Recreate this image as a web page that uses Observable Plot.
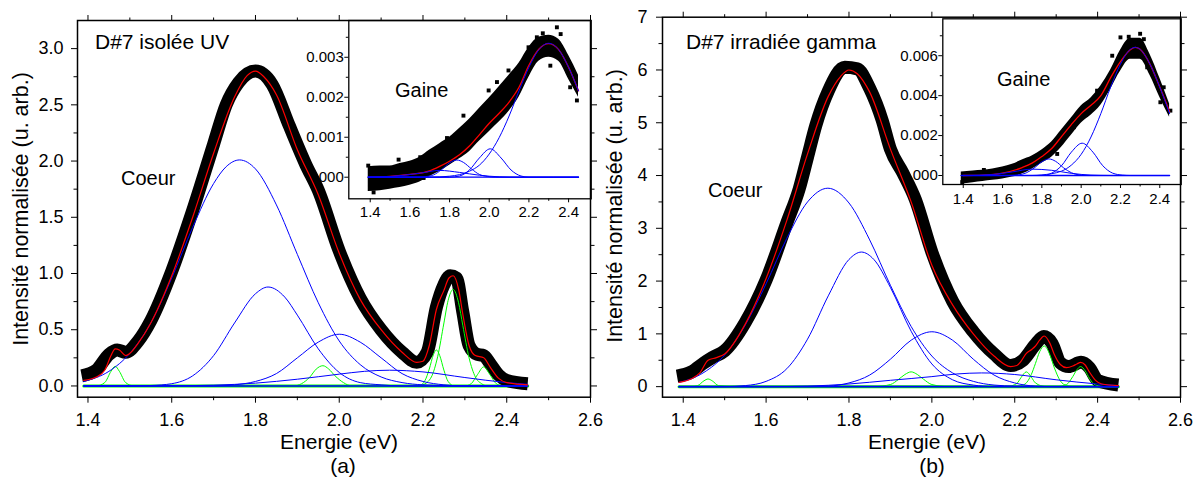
<!DOCTYPE html>
<html><head><meta charset="utf-8">
<script src="https://cdn.jsdelivr.net/npm/d3@7"></script>
<script src="https://cdn.jsdelivr.net/npm/@observablehq/plot@0.6"></script>
<style>
html,body{margin:0;padding:0;background:#fff;}
#wrap{position:relative;width:1201px;height:482px;overflow:hidden;background:#fff;font-family:"Liberation Sans",Arial,sans-serif;color:#000;}
.lbl{position:absolute;white-space:nowrap;line-height:1;}
</style></head><body><div id="wrap"></div>
<script>
// ---------- text ----------
const titleA = "D#7 isolée UV";
const titleB = "D#7 irradiée gamma";
const coreLabel = "Coeur";
const sheathLabel = "Gaine";
const xTitle = "Energie (eV)";
const yTitle = "Intensité normalisée (u. arb.)";
const panelA = "(a)", panelB = "(b)";

// ---------- ticks ----------
const xMainMajor = [1.4,1.6,1.8,2.0,2.2,2.4,2.6];
const xMainMinor = [1.5,1.7,1.9,2.1,2.3,2.5];
const yAMajor = [0,0.5,1,1.5,2,2.5,3];
const yAMinor = [0.25,0.75,1.25,1.75,2.25,2.75];
const yBMajor = [0,1,2,3,4,5,6,7];
const yBMinor = [0.5,1.5,2.5,3.5,4.5,5.5,6.5];
const xInsetMajor = [1.4,1.6,1.8,2.0,2.2,2.4];
const xInsetMinor = [1.5,1.7,1.9,2.1,2.3];
const yInsetAMajor = [0,0.001,0.002,0.003];
const yInsetAMinor = [0.0005,0.0015,0.0025,0.0035];
const yInsetBMajor = [0,0.002,0.004,0.006];
const yInsetBMinor = [0.001,0.003,0.005,0.007];

// ---------- panel (a) main ----------
const aBaseline = [[1.39,0],[2.45,0]];
const aData = [[1.385,0.09],[1.42,0.14],[1.45,0.28],[1.47,0.32],[1.49,0.30],[1.52,0.40],[1.55,0.58],[1.60,1.02],[1.65,1.56],[1.70,2.15],[1.73,2.50],[1.76,2.70],[1.80,2.80],[1.84,2.68],[1.88,2.32],[1.92,1.97],[1.95,1.74],[2.00,1.20],[2.05,0.78],[2.10,0.50],[2.15,0.30],[2.185,0.21],[2.21,0.30],[2.232,0.70],[2.25,0.90],[2.265,0.98],[2.28,0.96],[2.295,0.66],[2.31,0.36],[2.33,0.28],[2.345,0.27],[2.36,0.20],[2.38,0.10],[2.40,0.05],[2.45,0.02]];
const aFit = [[1.39,0.05],[1.42,0.08],[1.44,0.14],[1.455,0.27],[1.465,0.33],[1.475,0.32],[1.49,0.27],[1.50,0.29],[1.52,0.38],[1.55,0.56],[1.60,0.98],[1.65,1.50],[1.70,2.07],[1.75,2.57],[1.78,2.76],[1.80,2.80],[1.82,2.75],[1.85,2.59],[1.90,2.10],[1.95,1.70],[2.00,1.18],[2.05,0.77],[2.10,0.50],[2.15,0.30],[2.185,0.21],[2.20,0.22],[2.215,0.36],[2.232,0.68],[2.25,0.85],[2.262,0.96],[2.272,0.98],[2.285,0.86],[2.295,0.64],[2.31,0.36],[2.325,0.27],[2.345,0.25],[2.36,0.17],[2.38,0.07],[2.40,0.03],[2.45,0.01]];
const aBlue1 = [[1.39,0.04],[1.45,0.13],[1.50,0.29],[1.55,0.56],[1.60,0.96],[1.65,1.41],[1.70,1.80],[1.73,1.95],[1.762,2.01],[1.80,1.93],[1.85,1.61],[1.90,1.17],[1.95,0.74],[2.00,0.40],[2.05,0.19],[2.10,0.08],[2.15,0.03],[2.20,0.01],[2.30,0],[2.45,0]];
const aBlue2 = [[1.39,0],[1.50,0],[1.55,0.004],[1.60,0.02],[1.65,0.09],[1.70,0.27],[1.75,0.56],[1.80,0.82],[1.83,0.88],[1.87,0.79],[1.90,0.63],[1.95,0.33],[2.00,0.12],[2.05,0.03],[2.10,0.01],[2.15,0],[2.45,0]];
const aBlue3 = [[1.39,0],[1.70,0],[1.75,0.01],[1.80,0.04],[1.85,0.11],[1.90,0.25],[1.95,0.39],[2.00,0.46],[2.05,0.39],[2.10,0.25],[2.15,0.11],[2.20,0.04],[2.25,0.01],[2.30,0],[2.45,0]];
const aBlue4 = [[1.39,0],[1.60,0.002],[1.70,0.007],[1.80,0.025],[1.90,0.06],[2.00,0.105],[2.06,0.13],[2.12,0.14],[2.20,0.125],[2.30,0.075],[2.40,0.03],[2.45,0.015]];
const aGreen1 = [[1.39,0],[1.42,0],[1.44,0.03],[1.455,0.13],[1.465,0.175],[1.475,0.13],[1.49,0.03],[1.51,0],[2.45,0]];
const aGreen2 = [[1.39,0],[1.89,0],[1.91,0.02],[1.93,0.08],[1.945,0.15],[1.961,0.18],[1.975,0.15],[1.99,0.09],[2.01,0.03],[2.03,0],[2.45,0]];
const aGreen3 = [[1.39,0],[2.19,0],[2.205,0.05],[2.215,0.15],[2.225,0.28],[2.232,0.32],[2.24,0.27],[2.25,0.14],[2.26,0.04],[2.275,0],[2.45,0]];
const aGreen4 = [[1.39,0],[2.19,0],[2.20,0.01],[2.22,0.08],[2.235,0.26],[2.25,0.56],[2.26,0.76],[2.272,0.858],[2.285,0.74],[2.295,0.54],[2.31,0.25],[2.325,0.08],[2.34,0.02],[2.355,0],[2.45,0]];
const aGreen5 = [[1.39,0],[2.30,0],[2.315,0.02],[2.33,0.10],[2.345,0.17],[2.36,0.10],[2.375,0.02],[2.39,0],[2.45,0]];

// ---------- panel (a) inset ----------
const insetBaseline = [[1.39,0],[2.45,0]];
const aInsetBand = [[1.39,-0.00036,0.00026],[1.45,-0.00034,0.00028],[1.50,-0.0003,0.00028],[1.55,-0.00026,0.00034],[1.60,-0.0002,0.0004],[1.65,-0.00012,0.0005],[1.70,0.00002,0.00068],[1.75,0.00014,0.00084],[1.80,0.0003,0.001],[1.85,0.00046,0.00122],[1.90,0.00064,0.00145],[1.95,0.0009,0.00172],[2.00,0.00114,0.00198],[2.05,0.00138,0.00226],[2.10,0.00165,0.00255],[2.15,0.002,0.00285],[2.20,0.0025,0.00325],[2.25,0.0029,0.0035],[2.30,0.003,0.00355],[2.35,0.0029,0.00345],[2.40,0.00245,0.00305],[2.45,0.002,0.00255]];
const aInsetPoints = [[1.39,0.00029],[1.417,-0.00038],[1.543,0.00044],[1.652,0.0005],[1.669,-0.00002],[1.787,0.00098],[1.87,0.00154],[1.997,0.00217],[2.039,0.00238],[2.097,0.00267],[2.198,0.00325],[2.24,0.0035],[2.27,0.0036],[2.341,0.00375],[2.36,0.00358],[2.308,0.00279],[2.408,0.00225],[2.442,0.00192]];
const aInsetFit = [[1.40,0],[1.50,0.00002],[1.60,0.00007],[1.70,0.00016],[1.75,0.00027],[1.80,0.0004],[1.85,0.00056],[1.90,0.00078],[1.95,0.00106],[2.00,0.00135],[2.05,0.0016],[2.10,0.00188],[2.15,0.00225],[2.20,0.0028],[2.25,0.0032],[2.30,0.00334],[2.35,0.00319],[2.40,0.00275],[2.45,0.00216]];
const aInsetBig = [[1.39,0],[1.70,0],[1.80,0.000025],[1.90,0.00015],[1.95,0.0003],[2.00,0.00058],[2.05,0.00099],[2.10,0.00153],[2.15,0.00216],[2.20,0.00275],[2.25,0.00319],[2.30,0.00335],[2.35,0.00319],[2.40,0.00275],[2.45,0.00216]];
const aInsetMid2 = [[1.39,0],[1.80,0],[1.85,0.00003],[1.90,0.00018],[1.95,0.00048],[2.005,0.00071],[2.06,0.00048],[2.11,0.00018],[2.16,0.00003],[2.20,0],[2.45,0]];
const aInsetMid1 = [[1.39,0],[1.64,0],[1.68,0.000015],[1.72,0.00006],[1.76,0.00019],[1.80,0.00036],[1.837,0.00043],[1.87,0.00037],[1.91,0.00021],[1.95,0.00007],[1.99,0.00002],[2.03,0],[2.45,0]];
const aInsetBroad = [[1.39,0],[1.45,0.000005],[1.55,0.00004],[1.65,0.0001],[1.75,0.00017],[1.85,0.00012],[1.95,0.00005],[2.05,0.00001],[2.15,0],[2.45,0]];

// ---------- panel (b) main ----------
const bBaseline = [[1.39,0],[2.45,0]];
const bData = [[1.385,0.20],[1.42,0.28],[1.45,0.45],[1.47,0.55],[1.50,0.68],[1.55,1.22],[1.60,2.02],[1.65,3.10],[1.68,3.75],[1.70,4.35],[1.72,4.95],[1.75,5.60],[1.79,6.05],[1.82,6.02],[1.85,5.65],[1.88,5.05],[1.90,4.50],[1.93,4.05],[1.96,3.55],[2.00,2.55],[2.05,1.62],[2.10,1.04],[2.15,0.62],[2.19,0.40],[2.22,0.50],[2.25,0.80],[2.27,0.95],[2.29,0.82],[2.31,0.45],[2.33,0.38],[2.36,0.46],[2.38,0.36],[2.40,0.12],[2.45,0.03]];
const bFit = [[1.39,0.08],[1.42,0.15],[1.44,0.26],[1.46,0.50],[1.48,0.55],[1.50,0.62],[1.55,1.19],[1.60,2.05],[1.65,3.15],[1.70,4.41],[1.75,5.50],[1.78,5.88],[1.80,6.0],[1.82,5.93],[1.85,5.58],[1.90,4.50],[1.95,3.50],[2.00,2.30],[2.05,1.55],[2.10,1.00],[2.15,0.58],[2.19,0.38],[2.205,0.40],[2.215,0.48],[2.228,0.63],[2.24,0.70],[2.25,0.77],[2.26,0.88],[2.271,0.96],[2.285,0.82],[2.295,0.62],[2.31,0.42],[2.325,0.36],[2.34,0.39],[2.35,0.43],[2.359,0.46],[2.37,0.41],[2.38,0.28],[2.395,0.12],[2.41,0.05],[2.45,0.02]];
const bBlue1 = [[1.39,0.08],[1.42,0.15],[1.45,0.27],[1.50,0.60],[1.55,1.17],[1.60,1.95],[1.65,2.81],[1.70,3.50],[1.749,3.76],[1.80,3.48],[1.85,2.78],[1.90,1.92],[1.95,1.14],[2.00,0.58],[2.05,0.26],[2.10,0.10],[2.15,0.03],[2.20,0.01],[2.30,0],[2.45,0]];
const bBlue2 = [[1.39,0],[1.50,0],[1.55,0.02],[1.60,0.10],[1.65,0.34],[1.70,0.90],[1.75,1.72],[1.80,2.41],[1.83,2.55],[1.86,2.41],[1.90,1.88],[1.95,1.05],[2.00,0.43],[2.05,0.13],[2.10,0.03],[2.15,0],[2.45,0]];
const bBlue3 = [[1.39,0],[1.70,0],[1.75,0.01],[1.80,0.07],[1.85,0.22],[1.90,0.52],[1.95,0.88],[2.00,1.04],[2.05,0.88],[2.10,0.52],[2.15,0.22],[2.20,0.07],[2.25,0.01],[2.30,0],[2.45,0]];
const bBlue4 = [[1.39,0],[1.60,0],[1.70,0.01],[1.80,0.05],[1.90,0.12],[2.00,0.19],[2.06,0.24],[2.12,0.26],[2.20,0.23],[2.30,0.13],[2.40,0.05],[2.45,0.02]];
const bGreen1 = [[1.39,0],[1.42,0],[1.435,0.02],[1.45,0.11],[1.46,0.145],[1.47,0.11],[1.485,0.02],[1.52,0],[2.45,0]];
const bGreen2 = [[1.39,0],[1.86,0],[1.90,0.04],[1.92,0.14],[1.935,0.23],[1.95,0.28],[1.965,0.23],[1.98,0.14],[2.00,0.04],[2.04,0],[2.45,0]];
const bGreen3 = [[1.39,0],[2.18,0],[2.205,0.06],[2.215,0.17],[2.228,0.28],[2.24,0.18],[2.25,0.07],[2.275,0],[2.45,0]];
const bGreen4 = [[1.39,0],[2.20,0],[2.21,0.01],[2.225,0.05],[2.24,0.23],[2.25,0.44],[2.26,0.66],[2.271,0.77],[2.285,0.60],[2.295,0.37],[2.31,0.11],[2.325,0.02],[2.345,0],[2.45,0]];
const bGreen5 = [[1.39,0],[2.30,0],[2.325,0.04],[2.34,0.19],[2.35,0.32],[2.359,0.38],[2.37,0.30],[2.38,0.16],[2.395,0.03],[2.42,0],[2.45,0]];

// ---------- panel (b) inset ----------
const bInsetBand = [[1.39,-0.00042,0.00018],[1.45,-0.00036,0.00023],[1.50,-0.0003,0.00026],[1.55,-0.00024,0.00033],[1.60,-0.00018,0.00043],[1.65,-0.00008,0.00056],[1.70,0.00007,0.00078],[1.75,0.00032,0.00098],[1.80,0.00062,0.00128],[1.85,0.00092,0.00168],[1.90,0.00142,0.00228],[1.95,0.00202,0.00288],[2.00,0.00262,0.00348],[2.05,0.00302,0.00388],[2.10,0.00352,0.00448],[2.15,0.00432,0.00528],[2.20,0.00522,0.00628],[2.25,0.00582,0.00688],[2.30,0.00582,0.00688],[2.35,0.00502,0.00608],[2.40,0.00392,0.00488],[2.45,0.00292,0.00358]];
const bInsetPoints = [[1.395,-0.00033],[1.505,0.00028],[1.658,0.00033],[1.742,0.00075],[1.878,0.00108],[1.963,0.00242],[2.031,0.00325],[2.081,0.00425],[2.158,0.006],[2.2,0.00692],[2.242,0.00695],[2.30,0.0071],[2.319,0.00683],[2.336,0.00542],[2.403,0.00367],[2.42,0.00442],[2.454,0.00325]];
const bInsetFit = [[1.40,0],[1.50,0.00002],[1.60,0.00012],[1.70,0.0004],[1.75,0.00062],[1.80,0.00095],[1.85,0.00135],[1.90,0.00195],[1.95,0.00255],[2.00,0.0031],[2.05,0.00352],[2.10,0.004],[2.15,0.0049],[2.20,0.0057],[2.25,0.0063],[2.275,0.00642],[2.30,0.00632],[2.35,0.00558],[2.40,0.00443],[2.45,0.0032]];
const bInsetBig = [[1.39,0],[1.75,0],[1.80,0.00003],[1.90,0.00022],[1.95,0.00052],[2.00,0.00106],[2.05,0.00193],[2.10,0.0031],[2.15,0.00443],[2.20,0.00558],[2.25,0.00632],[2.275,0.00642],[2.30,0.00632],[2.35,0.00558],[2.40,0.00443],[2.45,0.0031]];
const bInsetMid2 = [[1.39,0],[1.80,0],[1.85,0.00012],[1.90,0.00049],[1.95,0.00117],[2.005,0.00162],[2.06,0.00117],[2.11,0.00049],[2.16,0.00012],[2.21,0.00002],[2.25,0],[2.45,0]];
const bInsetMid1 = [[1.39,0],[1.64,0],[1.68,0.00003],[1.72,0.00013],[1.76,0.00037],[1.80,0.00069],[1.836,0.00083],[1.87,0.00071],[1.91,0.00039],[1.95,0.00014],[1.99,0.00003],[2.03,0],[2.45,0]];
const bInsetBroad = [[1.39,0],[1.45,0.000005],[1.55,0.00005],[1.65,0.00018],[1.75,0.00032],[1.85,0.00026],[1.95,0.00011],[2.05,0.00002],[2.15,0],[2.45,0]];

// ---------- drawing ----------
const X = d => d[0], Y = d => d[1];
const FONT = "Liberation Sans, Arial, sans-serif";
const none = () => "";
const wrap = document.getElementById("wrap");

function axes(o) {
  const m = [
    Plot.axisX({ticks:o.xMaj, anchor:"bottom", tickSize:o.ts, tickPadding:o.xpad, tickFormat:o.fx, label:null}),
    Plot.axisX({ticks:o.xMin, anchor:"bottom", tickSize:o.ms, tickFormat:none, label:null}),
    Plot.axisY({ticks:o.yMaj, anchor:"left", tickSize:o.ts, tickPadding:o.ypad, tickFormat:o.fy, label:null}),
    Plot.axisY({ticks:o.yMin, anchor:"left", tickSize:o.ms, tickFormat:none, label:null})
  ];
  if (o.mirror) m.push(
    Plot.axisX({ticks:o.xMaj, anchor:"top", tickSize:o.ts, tickFormat:none, label:null}),
    Plot.axisX({ticks:o.xMin, anchor:"top", tickSize:o.ms, tickFormat:none, label:null}),
    Plot.axisY({ticks:o.yMaj, anchor:"right", tickSize:o.ts, tickFormat:none, label:null}),
    Plot.axisY({ticks:o.yMin, anchor:"right", tickSize:o.ms, tickFormat:none, label:null})
  );
  return m;
}
const lines = (list, color, w) => list.map(c => Plot.line(c, {x:X, y:Y, stroke:color, strokeWidth:w, curve:"monotone-x"}));

function mainChart(o) {
  return Plot.plot({
    width:600, height:482,
    marginLeft:o.ml, marginRight:o.mr, marginTop:o.mt, marginBottom:o.mb,
    style:{background:"transparent", fontFamily:FONT, fontSize:"18px", color:"black", maxWidth:"none", overflow:"visible"},
    x:{domain:o.xd}, y:{domain:o.yd},
    marks:[
      Plot.line(o.base, {x:X, y:Y, stroke:"#00ff00", strokeWidth:3}),
      Plot.line(o.data, {x:X, y:Y, stroke:"black", strokeWidth:13, curve:"monotone-x", strokeLinejoin:"round", strokeLinecap:"butt"}),
      ...lines(o.green, "#00ff00", 1),
      ...lines(o.blue, "#0000ff", 1),
      Plot.line(o.base, {x:X, y:Y, stroke:"#0000ff", strokeWidth:1.6}),
      Plot.line(o.fit, {x:X, y:Y, stroke:"#ff0000", strokeWidth:1.2, curve:"monotone-x"}),
      Plot.frame({strokeWidth:1.5}),
      ...axes({xMaj:xMainMajor, xMin:xMainMinor, yMaj:o.yMaj, yMin:o.yMin, ts:6, ms:3.5, xpad:10, ypad:o.ypad, fx:d3.format(".1f"), fy:o.fy, mirror:true})
    ]
  });
}

function insetChart(o) {
  return Plot.plot({
    width:o.w, height:o.h,
    marginLeft:o.ml, marginRight:o.mr, marginTop:o.mt, marginBottom:o.mb,
    style:{background:"transparent", fontFamily:FONT, fontSize:"15px", color:"black", maxWidth:"none", overflow:"visible"},
    x:{domain:o.xd}, y:{domain:o.yd},
    marks:[
      Plot.frame({fill:"white", stroke:null}),
      Plot.areaY(o.band, {x:d=>d[0], y1:d=>d[1], y2:d=>d[2], fill:"black", curve:"monotone-x"}),
      Plot.dot(o.points, {x:X, y:Y, symbol:"square", r:2.2, fill:"black"}),
      Plot.line(o.fit, {x:X, y:Y, stroke:"#ff0000", strokeWidth:1.3, curve:"monotone-x"}),
      ...lines(o.blue, "#0000ff", 1),
      Plot.line(insetBaseline, {x:X, y:Y, stroke:"#0000ff", strokeWidth:1.3}),
      Plot.frame({strokeWidth:1.3}),
      ...axes({xMaj:xInsetMajor, xMin:xInsetMinor, yMaj:o.yMaj, yMin:o.yMin, ts:4, ms:2.5, xpad:o.xpad, ypad:1, fx:d3.format(".1f"), fy:d3.format(".3f"), mirror:false})
    ]
  });
}

function place(node, left, top) {
  node.style.position = "absolute";
  node.style.left = left + "px";
  node.style.top = top + "px";
  wrap.appendChild(node);
}
function text(str, left, top, size, center) {
  const d = document.createElement("div");
  d.className = "lbl";
  d.textContent = str;
  d.style.fontSize = size + "px";
  if (center) { d.style.left = (left - 200) + "px"; d.style.width = "400px"; d.style.textAlign = "center"; }
  else d.style.left = left + "px";
  d.style.top = top + "px";
  wrap.appendChild(d);
}
function ytext(str, cx, cy, size) {
  const d = document.createElement("div");
  d.className = "lbl";
  d.textContent = str;
  d.style.cssText += `font-size:${size}px;line-height:22px;left:${cx-200}px;top:${cy-11}px;width:400px;text-align:center;transform:rotate(-90deg);`;
  wrap.appendChild(d);
}

// insets first (main curves lie over their labels)
place(insetChart({w:300, h:222, ml:48.3, mr:9.3, mt:20, mb:23.7, xd:[1.292,2.514], yd:[-0.00054,0.00392],
  band:aInsetBand, points:aInsetPoints, fit:aInsetFit, blue:[aInsetBroad,aInsetMid1,aInsetMid2,aInsetBig],
  yMaj:yInsetAMajor, yMin:yInsetAMinor, xpad:4}), 300, 0);
place(insetChart({w:300, h:210, ml:52.3, mr:9.3, mt:18.3, mb:26, xd:[1.296,2.509], yd:[-0.00045,0.00785],
  band:bInsetBand, points:bInsetPoints, fit:bInsetFit, blue:[bInsetBroad,bInsetMid1,bInsetMid2,bInsetBig],
  yMaj:yInsetBMajor, yMin:yInsetBMinor, xpad:5}), 890, 0);

place(mainChart({ml:77, mr:10, mt:20, mb:85.3, xd:[1.375,2.6], yd:[-0.1,3.25],
  base:aBaseline, data:aData, fit:aFit, blue:[aBlue1,aBlue2,aBlue3,aBlue4], green:[aGreen1,aGreen2,aGreen3,aGreen4,aGreen5],
  yMaj:yAMajor, yMin:yAMinor, ypad:8, fy:d3.format(".1f")}), 0, 0);
place(mainChart({ml:62, mr:20, mt:16.7, mb:85.3, xd:[1.35,2.6], yd:[-0.2,7],
  base:bBaseline, data:bData, fit:bFit, blue:[bBlue1,bBlue2,bBlue3,bBlue4], green:[bGreen1,bGreen2,bGreen3,bGreen4,bGreen5],
  yMaj:yBMajor, yMin:yBMinor, ypad:9, fy:d3.format("d")}), 600, 0);

// annotations
text(titleA, 95, 31, 21);
text(titleB, 686, 31, 21);
text(coreLabel, 121, 168, 20);
text(coreLabel, 708, 180, 20);
text(sheathLabel, 395, 80, 20);
text(sheathLabel, 997, 69, 20);
text(xTitle, 339, 431, 21, true);
text(xTitle, 927, 431, 21, true);
text(panelA, 343, 455, 21, true);
text(panelB, 932, 455, 21, true);
ytext(yTitle, 20.5, 209, 21.5);
ytext(yTitle, 615, 206, 21.5);
</script>
</body></html>
